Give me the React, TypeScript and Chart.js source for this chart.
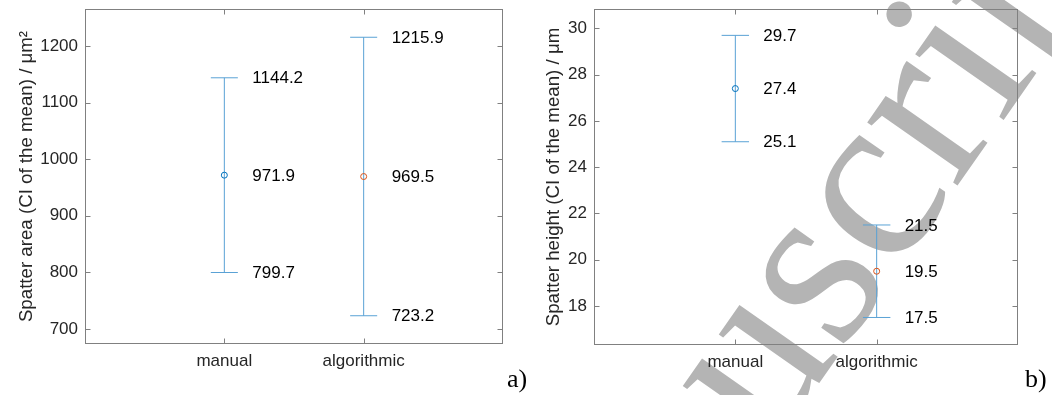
import React, { useEffect, useRef } from 'react';
import { Chart, registerables } from 'chart.js';

Chart.register(...registerables);

// ---- data ----
const categories = ['manual', 'algorithmic'];

const areaMean = [971.9, 969.5];
const areaLower = [799.7, 723.2];
const areaUpper = [1144.2, 1215.9];
const areaLimits = [673.2, 1265.9];
const areaTicks = [700, 800, 900, 1000, 1100, 1200];
const areaTitle = 'Spatter area (CI of the mean) / μm²';

const heightMean = [27.4, 19.5];
const heightLower = [25.1, 17.5];
const heightUpper = [29.7, 21.5];
const heightLimits = [16.31, 30.84];
const heightTicks = [18, 20, 22, 24, 26, 28, 30];
const heightTitle = 'Spatter height (CI of the mean) / μm';

const panelTags = ['a)', 'b)'];

// ---- styles ----
const markerColors = ['#0072BD', '#D95319'];
const barColor = '#5aa2d5';
const boxColor = '#808080';
const tickTextColor = '#262626';
const SANS = '"Liberation Sans", Arial, Helvetica, sans-serif';
const SERIF = '"Liberation Serif", "Times New Roman", serif';
const CAP = 0.097; // half-width of error-bar caps in x units
const LABEL_OFFSET = 28;
const TICK_LEN = 5;

const framePlugin = {
  id: 'frame',
  beforeDatasetsDraw(chart: any) {
    const { ctx, chartArea: a, scales } = chart;
    ctx.save();
    ctx.strokeStyle = boxColor;
    ctx.lineWidth = 1;
    const L = Math.round(a.left) + 0.5;
    const R = Math.round(a.right) - 0.5;
    const T = Math.round(a.top) + 0.5;
    const B = Math.round(a.bottom) - 0.5;
    ctx.strokeRect(L, T, R - L, B - T);
    ctx.beginPath();
    scales.y.ticks.forEach((t: any) => {
      const y = Math.round(scales.y.getPixelForValue(t.value)) + 0.5;
      ctx.moveTo(L, y); ctx.lineTo(L + TICK_LEN, y);
      ctx.moveTo(R, y); ctx.lineTo(R - TICK_LEN, y);
    });
    scales.x.ticks.forEach((t: any) => {
      const x = Math.round(scales.x.getPixelForValue(t.value)) + 0.5;
      ctx.moveTo(x, B); ctx.lineTo(x, B - TICK_LEN);
      ctx.moveTo(x, T); ctx.lineTo(x, T + TICK_LEN);
    });
    ctx.stroke();
    ctx.restore();
  },
};

function makeLabelPlugin(mean: number[], lower: number[], upper: number[]) {
  return {
    id: 'valueLabels',
    afterDatasetsDraw(chart: any) {
      const { ctx, scales } = chart;
      ctx.save();
      ctx.font = `17px ${SANS}`;
      ctx.fillStyle = '#000';
      ctx.textAlign = 'left';
      ctx.textBaseline = 'middle';
      categories.forEach((_, i) => {
        const x = scales.x.getPixelForValue(i + 1) + LABEL_OFFSET;
        [upper[i], mean[i], lower[i]].forEach((v) => {
          ctx.fillText(v.toFixed(1), x, scales.y.getPixelForValue(v) + 1);
        });
      });
      ctx.restore();
    },
  };
}

const watermarkPlugin = {
  id: 'watermark',
  beforeDraw(chart: any) {
    const ctx = chart.ctx;
    ctx.save();
    ctx.fillStyle = '#b4b4b4';
    ctx.font = `240px ${SERIF}`;
    ctx.textAlign = 'left';
    ctx.textBaseline = 'alphabetic';
    ctx.translate(-7, 812);
    ctx.rotate((-55 * Math.PI) / 180);
    ctx.fillText('Manuscript', 0, 0);
    ctx.restore();
  },
};

type PanelCfg = {
  mean: number[];
  lower: number[];
  upper: number[];
  limits: number[];
  ticks: number[];
  title: string;
  padRight: number;
  yWidth: number;
  xHeight: number;
  titlePad: number;
  watermark?: boolean;
};

function buildConfig(c: PanelCfg): any {
  const datasets: any[] = [];
  datasets.push({
    type: 'scatter',
    data: categories.map((_, i) => ({ x: i + 1, y: c.mean[i] })),
    pointRadius: 3,
    pointBorderWidth: 1,
    pointBorderColor: markerColors,
    pointBackgroundColor: 'rgba(0,0,0,0)',
    showLine: false,
  });
  categories.forEach((_, i) => {
    const x = i + 1;
    const segs = [
      [{ x, y: c.lower[i] }, { x, y: c.upper[i] }],
      [{ x: x - CAP, y: c.upper[i] }, { x: x + CAP, y: c.upper[i] }],
      [{ x: x - CAP, y: c.lower[i] }, { x: x + CAP, y: c.lower[i] }],
    ];
    segs.forEach((seg) => {
      datasets.push({
        type: 'line',
        data: seg,
        borderColor: barColor,
        borderWidth: 1,
        pointRadius: 0,
        fill: false,
        tension: 0,
      });
    });
  });

  const plugins: any[] = [framePlugin, makeLabelPlugin(c.mean, c.lower, c.upper)];
  if (c.watermark) plugins.unshift(watermarkPlugin);

  return {
    type: 'scatter',
    data: { datasets },
    plugins,
    options: {
      animation: false,
      responsive: false,
      devicePixelRatio: 1,
      events: [],
      layout: { padding: { left: 0, right: c.padRight, top: 9, bottom: 0 } },
      plugins: { legend: { display: false }, tooltip: { enabled: false } },
      scales: {
        x: {
          type: 'linear',
          min: 0,
          max: categories.length + 1,
          afterBuildTicks: (s: any) => {
            s.ticks = categories.map((_, i) => ({ value: i + 1 }));
          },
          afterFit: (s: any) => {
            s.height = c.xHeight;
            s.paddingLeft = 0;
            s.paddingRight = 0;
          },
          grid: { display: false, drawTicks: false },
          border: { display: false },
          ticks: {
            autoSkip: false,
            maxRotation: 0,
            padding: 7,
            color: tickTextColor,
            font: { family: SANS, size: 17 },
            callback: (v: any) => categories[Math.round(v) - 1] ?? '',
          },
        },
        y: {
          type: 'linear',
          min: c.limits[0],
          max: c.limits[1],
          afterBuildTicks: (s: any) => {
            s.ticks = c.ticks.map((v) => ({ value: v }));
          },
          afterFit: (s: any) => {
            s.width = c.yWidth;
            s.paddingTop = 0;
            s.paddingBottom = 0;
          },
          grid: { display: false, drawTicks: false },
          border: { display: false },
          ticks: {
            padding: 7,
            color: tickTextColor,
            font: { family: SANS, size: 17 },
            callback: (v: any) => String(v),
          },
          title: {
            display: true,
            text: c.title,
            color: tickTextColor,
            font: { family: SANS, size: 18.7 },
            padding: { top: c.titlePad, bottom: 0 },
          },
        },
      },
    },
  };
}

function Panel({ cfg, left }: { cfg: PanelCfg; left: number }) {
  const ref = useRef<HTMLCanvasElement>(null);
  useEffect(() => {
    const chart = new Chart(ref.current as HTMLCanvasElement, buildConfig(cfg));
    return () => chart.destroy();
  }, []);
  return (
    <canvas
      ref={ref}
      width={526}
      height={395}
      style={{ position: 'absolute', left, top: 0, width: 526, height: 395, display: 'block' }}
    />
  );
}

const leftCfg: PanelCfg = {
  mean: areaMean,
  lower: areaLower,
  upper: areaUpper,
  limits: areaLimits,
  ticks: areaTicks,
  title: areaTitle,
  padRight: 23,
  yWidth: 85,
  xHeight: 51,
  titlePad: 16,
};

const rightCfg: PanelCfg = {
  mean: heightMean,
  lower: heightLower,
  upper: heightUpper,
  limits: heightLimits,
  ticks: heightTicks,
  title: heightTitle,
  padRight: 34,
  yWidth: 68,
  xHeight: 50,
  titlePad: 17,
  watermark: true,
};

const tagStyle = (left: number): React.CSSProperties => ({
  position: 'absolute',
  left,
  top: 366,
  fontFamily: SERIF,
  fontSize: 26,
  lineHeight: 1,
  color: '#000',
  whiteSpace: 'nowrap',
});

export default function App() {
  return (
    <div style={{ position: 'absolute', left: 0, top: 0, width: 1052, height: 395, background: '#fff', overflow: 'hidden' }}>
      <Panel cfg={leftCfg} left={0} />
      <Panel cfg={rightCfg} left={526} />
      <span style={tagStyle(507)}>{panelTags[0]}</span>
      <span style={tagStyle(1025)}>{panelTags[1]}</span>
    </div>
  );
}
